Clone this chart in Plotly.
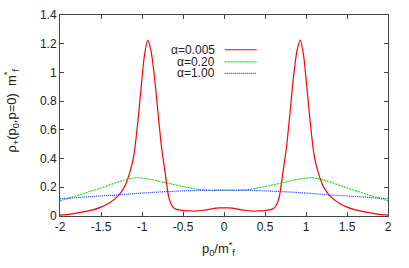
import plotly.graph_objects as go

# Red curve alpha=0.005 (left half; right half mirrored)
red_x_left = [-2.0, -1.9, -1.8, -1.7, -1.6, -1.5, -1.4, -1.3, -1.25, -1.2, -1.15, -1.1, -1.05,
              -1.0, -0.97, -0.93, -0.89, -0.85, -0.8, -0.76, -0.72, -0.68, -0.66, -0.62, -0.58,
              -0.5, -0.4, -0.35, -0.25, -0.15, -0.05]
red_y_left = [0.006, 0.012, 0.02, 0.03, 0.043, 0.062, 0.09, 0.135, 0.17, 0.22, 0.30, 0.42, 0.66,
              0.96, 1.12, 1.225, 1.15, 0.98, 0.69, 0.47, 0.31, 0.15, 0.105, 0.06, 0.046,
              0.038, 0.035, 0.034, 0.04, 0.05, 0.056]
red_center = 0.057

green_x_left = [-2.0, -1.75, -1.5, -1.25, -1.07, -0.9, -0.7, -0.5, -0.3, -0.15]
green_y_left = [0.105, 0.15, 0.195, 0.245, 0.267, 0.255, 0.23, 0.205, 0.185, 0.179]
green_center = 0.178

blue_x_left = [-2.0, -1.5, -1.28, -1.0, -0.7, -0.4, -0.2]
blue_y_left = [0.12, 0.14, 0.147, 0.16, 0.17, 0.177, 0.179]
blue_center = 0.18

labels = ["α=0.005", "α=0.20", "α=1.00"]
colors = ["#ff0000", "#22dd22", "#2233ff"]
dashes = ["solid", "2px,1px", "1px,1px"]

x_tickvals = [-2, -1.5, -1, -0.5, 0, 0.5, 1, 1.5, 2]
x_ticktext = ["-2", "-1.5", "-1", "-0.5", "0", "0.5", "1", "1.5", "2"]
y_tickvals = [0, 0.2, 0.4, 0.6, 0.8, 1.0, 1.2, 1.4]
y_ticktext = ["0", "0.2", "0.4", "0.6", "0.8", "1", "1.2", "1.4"]

x_title = "p<sub>0</sub>/m<sup>*</sup><sub>f</sub>"
y_title = "ρ<sub>+</sub>(p<sub>0</sub>,p=0)  m<sup>*</sup><sub>f</sub>"


def sym(xl, yl, c):
    xs = list(xl) + [0.0] + [-v for v in reversed(xl)]
    ys = list(yl) + [c] + list(reversed(yl))
    return xs, ys


series = [sym(red_x_left, red_y_left, red_center),
          sym(green_x_left, green_y_left, green_center),
          sym(blue_x_left, blue_y_left, blue_center)]

fig = go.Figure()
for (xs, ys), lab, col, d in zip(series, labels, colors, dashes):
    fig.add_trace(go.Scatter(x=xs, y=ys, mode="lines", name=lab,
                             line=dict(color=col, width=1.2, dash=d, shape="spline", smoothing=0.7),
                             showlegend=False))

font = dict(family="Liberation Sans, Arial, sans-serif", size=12, color="#222222")

# custom gnuplot-style legend: text right-aligned, sample line to the right
leg_y = [0.827, 0.767, 0.71]
for lab, col, d, yy in zip(labels, colors, dashes, leg_y):
    fig.add_annotation(x=0.479, y=yy, xref="paper", yref="paper", text=lab, showarrow=False,
                       xanchor="right", yanchor="middle", font=font)
    fig.add_shape(type="line", xref="paper", yref="paper", x0=0.502, x1=0.599, y0=yy, y1=yy,
                  line=dict(color=col, width=1.2, dash=d))

# axis titles
fig.add_annotation(x=0.482, y=-0.165, xref="paper", yref="paper", text=x_title, showarrow=False,
                   xanchor="center", yanchor="middle", font=dict(font, size=13))
fig.add_annotation(x=-0.148, y=0.527, xref="paper", yref="paper", text=y_title, showarrow=False,
                   textangle=-90, xanchor="center", yanchor="middle", font=dict(font, size=13))

axis_common = dict(showline=True, linecolor="#444444", linewidth=1, mirror="ticks",
                   ticks="inside", ticklen=4, tickcolor="#444444", showgrid=False,
                   zeroline=False, tickfont=font, automargin=False)

fig.update_xaxes(range=[-2, 2], tickvals=x_tickvals, ticktext=x_ticktext, **axis_common)
fig.update_yaxes(range=[0, 1.4], tickvals=y_tickvals, ticktext=y_ticktext, **axis_common)

fig.update_layout(width=409, height=268, margin=dict(l=60, r=21, t=15, b=52, autoexpand=False),
                  plot_bgcolor="white", paper_bgcolor="white", font=font)

fig.write_html("out.html", config={"displayModeBar": False},
               post_script="document.body.style.margin='0px';")
